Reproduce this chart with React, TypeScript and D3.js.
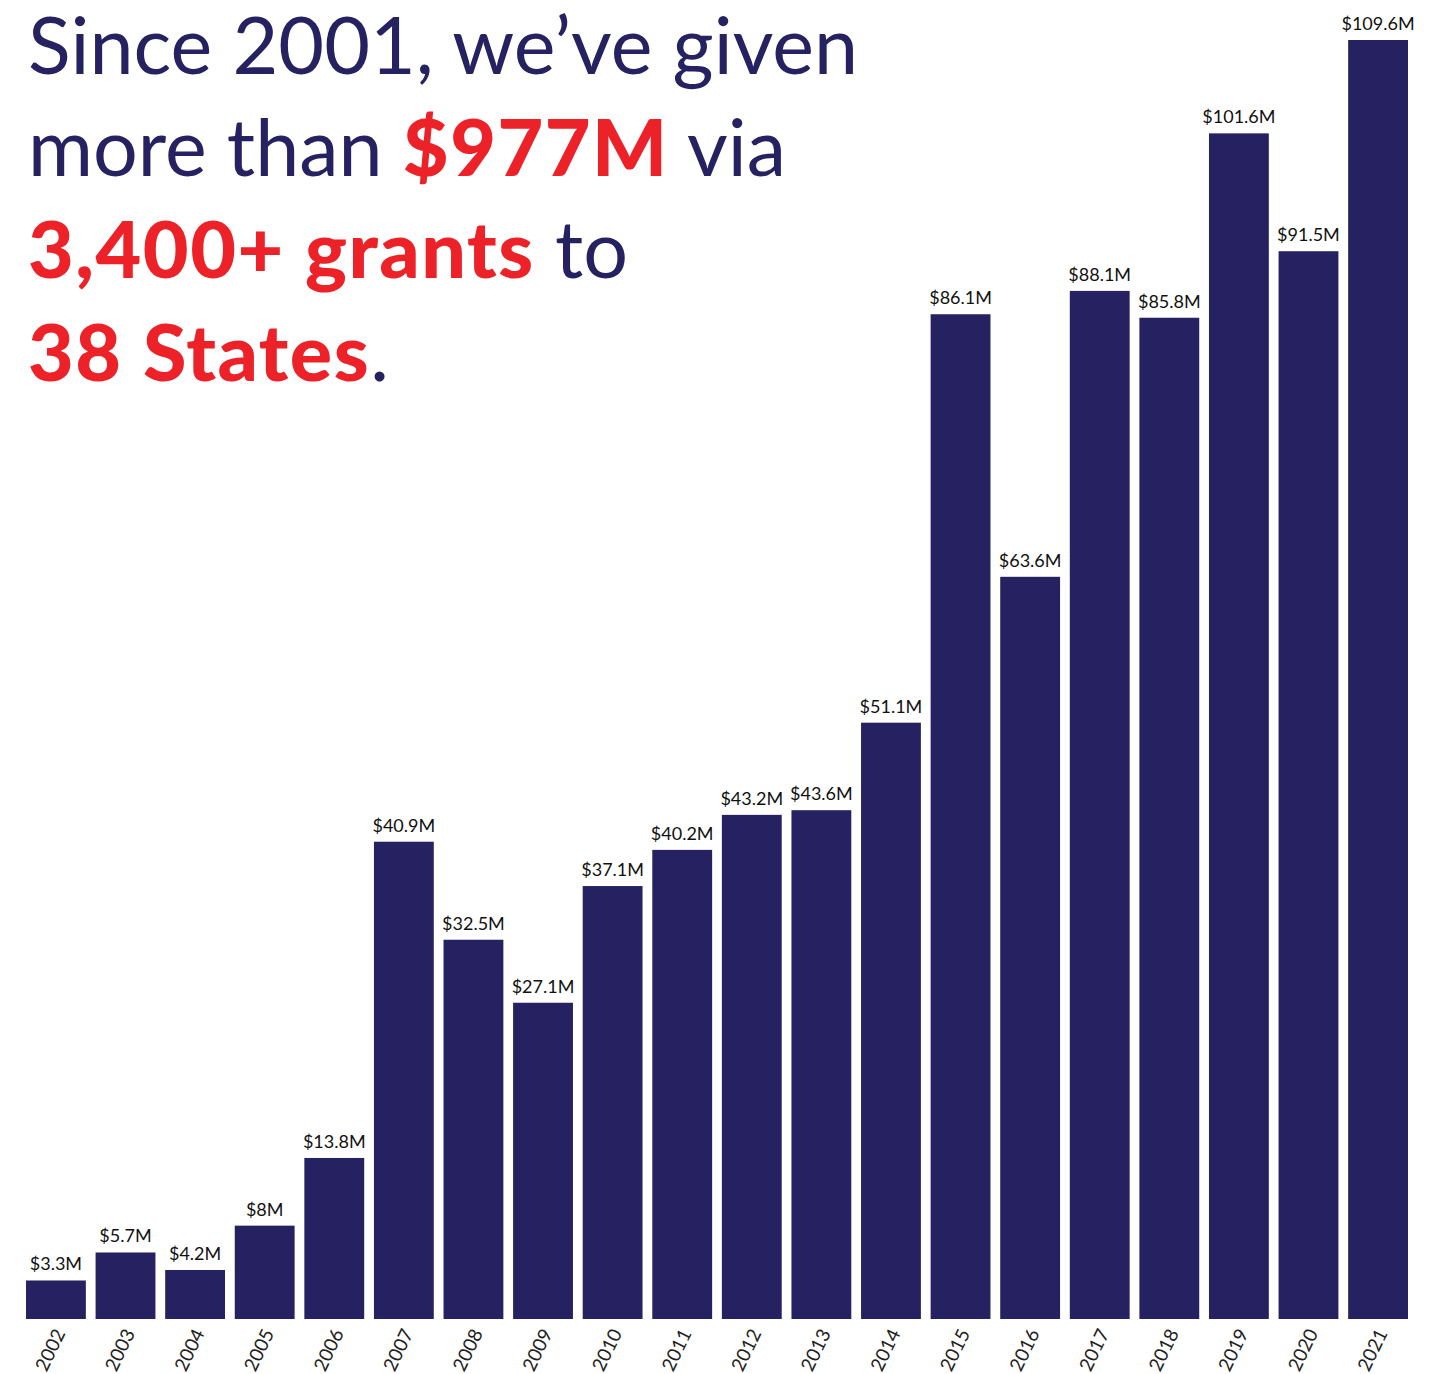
import React from "react";
import * as d3 from "d3";

const years = ["2002","2003","2004","2005","2006","2007","2008","2009","2010","2011","2012","2013","2014","2015","2016","2017","2018","2019","2020","2021"];
const values = [3.3,5.7,4.2,8,13.8,40.9,32.5,27.1,37.1,40.2,43.2,43.6,51.1,86.1,63.6,88.1,85.8,101.6,91.5,109.6];
const valueLabels = ["$3.3M","$5.7M","$4.2M","$8M","$13.8M","$40.9M","$32.5M","$27.1M","$37.1M","$40.2M","$43.2M","$43.6M","$51.1M","$86.1M","$63.6M","$88.1M","$85.8M","$101.6M","$91.5M","$109.6M"];

const NAVY = "#262262";
const RED = "#ED2128";
const FONT = "Lato, 'Noto Sans', sans-serif";

export default function App() {
  const W = 1435, H = 1374;
  const x = d3.scaleBand<string>().domain(years).range([26, 1408]).paddingInner(0.14).paddingOuter(0);
  const y = d3.scaleLinear().domain([0, 109.6]).range([1319, 40]);
  const titleSize = 79;
  const lines = [74, 176, 278, 381];
  const bold = { fill: RED, fontWeight: 900, letterSpacing: 1.5 } as const;
  return (
    <svg width={W} height={H} style={{ position: "absolute", left: 0, top: 0 }} fontFamily={FONT}>
      <rect width={W} height={H} fill="#fff" />
      {years.map((yr, i) => (
        <rect key={yr} x={x(yr)} y={y(values[i])} width={x.bandwidth()} height={y(0) - y(values[i])} fill={NAVY} />
      ))}
      {years.map((yr, i) => (
        <text key={"v" + yr} x={(x(yr) as number) + x.bandwidth() / 2} y={y(values[i]) - 10} textAnchor="middle" fontSize={18} fill="#111">
          {valueLabels[i]}
        </text>
      ))}
      {years.map((yr) => {
        const cx = (x(yr) as number) + x.bandwidth() / 2;
        return (
          <text key={"y" + yr} transform={`translate(${cx + 10},${1333}) rotate(-64)`} textAnchor="end" fontSize={19} fill="#222">
            {yr}
          </text>
        );
      })}
      <g fontSize={titleSize} fill={NAVY}>
        <text x={28} y={lines[0]}>Since 2001, we’ve given</text>
        <text x={28} y={lines[1]}>
          more than <tspan {...bold}>$977M</tspan> via
        </text>
        <text x={28} y={lines[2]}>
          <tspan {...bold}>3,400+ grants</tspan> to
        </text>
        <text x={28} y={lines[3]}>
          <tspan {...bold}>38 States</tspan>.
        </text>
      </g>
    </svg>
  );
}
